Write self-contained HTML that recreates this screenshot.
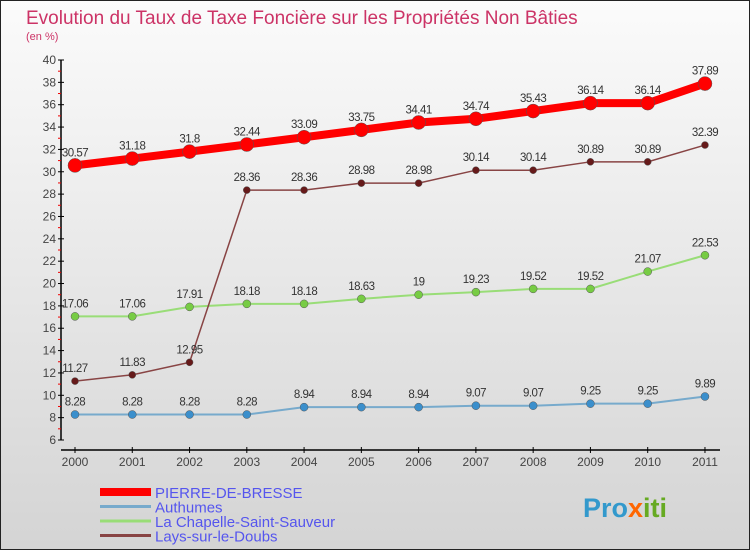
<!DOCTYPE html>
<html><head><meta charset="utf-8"><style>
body{margin:0;width:750px;height:550px;overflow:hidden;font-family:"Liberation Sans",sans-serif}
svg{display:block}
</style></head><body>
<svg width="750" height="550">
<defs><linearGradient id="bg" x1="0" y1="0" x2="0" y2="1"><stop offset="0" stop-color="#fbfbfb"/><stop offset="1" stop-color="#d4d4d4"/></linearGradient></defs>
<rect x="0.5" y="0.5" width="749" height="549" fill="url(#bg)" stroke="#222"/>
<text x="26" y="24" font-size="19" fill="#cc3366">Evolution du Taux de Taxe Foncière sur les Propriétés Non Bâties</text>
<text x="26" y="40" font-size="11" fill="#cc3366">(en %)</text>
<g id="axes"></g><g id="series"></g><g id="legend"></g>
<text x="583" y="517" font-size="27" font-weight="bold" fill="#3399cc">Pro<tspan fill="#ff6600">x</tspan><tspan fill="#66aa22">iti</tspan></text>
</svg>
<script>
const years=[2000,2001,2002,2003,2004,2005,2006,2007,2008,2009,2010,2011];
const pierre=[30.57,31.18,31.8,32.44,33.09,33.75,34.41,34.74,35.43,36.14,36.14,37.89];
const authumes=[8.28,8.28,8.28,8.28,8.94,8.94,8.94,9.07,9.07,9.25,9.25,9.89];
const chapelle=[17.06,17.06,17.91,18.18,18.18,18.63,19,19.23,19.52,19.52,21.07,22.53];
const lays=[11.27,11.83,12.95,28.36,28.36,28.98,28.98,30.14,30.14,30.89,30.89,32.39];
const yTicks=[6,8,10,12,14,16,18,20,22,24,26,28,30,32,34,36,38,40];
const names=["PIERRE-DE-BRESSE","Authumes","La Chapelle-Saint-Sauveur","Lays-sur-le-Doubs"];
const NS="http://www.w3.org/2000/svg";
const X=i=>75+i*57.27, Y=v=>440-(v-6)*(380/34);
function mk(t,a,p){const e=document.createElementNS(NS,t);for(const k in a)e.setAttribute(k,a[k]);p.appendChild(e);return e;}
const ax=document.getElementById('axes');
let e=mk('line',{x1:61,y1:60,x2:61,y2:440,stroke:'#000','stroke-width':1.5},ax);

e=mk('line',{x1:61,y1:450,x2:720,y2:450,stroke:'#000','stroke-width':1.5},ax);

yTicks.forEach(v=>{const y=Y(v);
 mk('line',{x1:58,y1:y,x2:64,y2:y,stroke:'#000'},ax);
 if(v<40)mk('line',{x1:58,y1:Y(v+1),x2:61,y2:Y(v+1),stroke:'#e00'},ax);
 const t=mk('text',{x:56,y:y+4,'font-size':12,fill:'#444','text-anchor':'end'},ax);t.textContent=v;
 });
years.forEach((yr,i)=>{mk('line',{x1:X(i),y1:447,x2:X(i),y2:453,stroke:'#000'},ax);
 const t=mk('text',{x:X(i),y:466,'font-size':12,fill:'#444','text-anchor':'middle'},ax);t.textContent=yr;
 });
const sg=document.getElementById('series');
function series(d,col,dot,w,r,nm){const g=mk('g',{},sg);
 
 mk('polyline',{points:d.map((v,i)=>X(i)+','+Y(v)).join(' '),fill:'none',stroke:col,'stroke-width':w},g);
 d.forEach((v,i)=>{const c=mk('circle',{cx:X(i),cy:Y(v),r:r,fill:dot,stroke:'#555','stroke-width':0.5},g);
  
  const t=mk('text',{x:X(i),y:Y(v)-9,'font-size':11.5,fill:'#333','text-anchor':'middle','letter-spacing':'-0.5'},g);t.textContent=v;});}
series(authumes,'#77aacc','#3b8fcc',2,4,'series-authumes');
series(chapelle,'#99dd77','#77cc44',2,4,'series-la-chapelle');
series(lays,'#884444','#661a1a',1.5,3.5,'series-lays');
series(pierre,'#f00','#f00',8,7,'series-pierre-de-bresse');
const lg=document.getElementById('legend');
const lc=['#f00','#77aacc','#99dd77','#884444'],lw=[8,3,3,3];
names.forEach((n,i)=>{const y=492+i*14.5;const g=mk('g',{},lg);
 
 mk('line',{x1:100,y1:y,x2:151,y2:y,stroke:lc[i],'stroke-width':lw[i]},g);
 const t=mk('text',{x:155,y:y+6,'font-size':15,fill:'#5555ee'},g);t.textContent=n;});
</script>
</body></html>
